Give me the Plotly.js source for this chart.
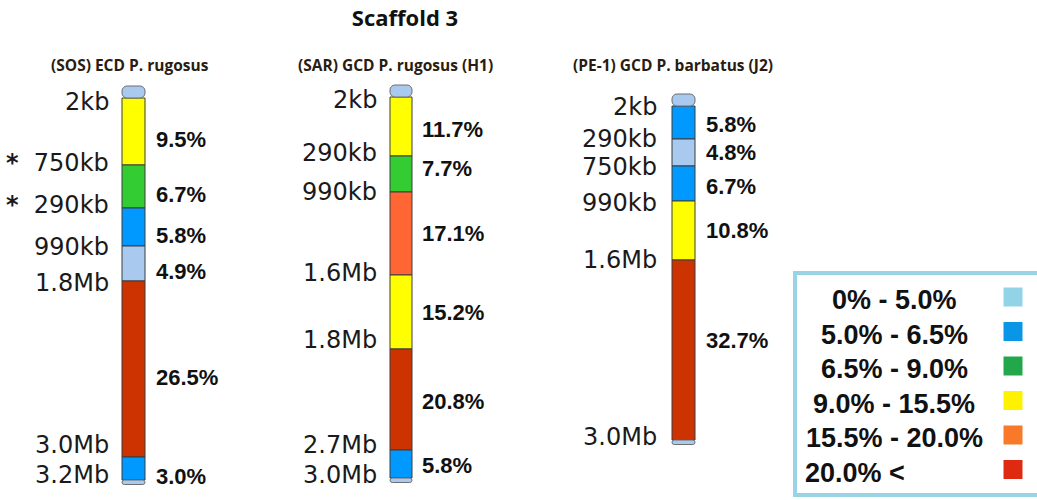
<!DOCTYPE html>
<html><head><meta charset="utf-8">
<script src="https://cdn.plot.ly/plotly-3.0.1.min.js"></script>
<style>html,body{margin:0;padding:0;background:#fff}#chart{width:1037px;height:500px}</style>
</head><body><div id="chart"></div>
<script>
// ---------------- DATA ----------------
const chartTitle = 'Scaffold 3';
const sampleNames = ['(SOS) ECD P. rugosus', '(SAR) GCD P. rugosus (H1)', '(PE-1) GCD P. barbatus (J2)'];

// segment boundaries along each schematic scaffold map (top → bottom)
const sosBounds  = [98, 165, 208, 246, 281, 457, 480];
const sosPercent = [9.5, 6.7, 5.8, 4.9, 26.5, 3.0];
const sosClass   = [3, 2, 1, 0, 5, 1];
const sosTicks   = ['2kb', '* 750kb', '* 290kb', '990kb', '1.8Mb', '3.0Mb', '3.2Mb'];

const sarBounds  = [97, 156, 192, 275, 349, 450, 478];
const sarPercent = [11.7, 7.7, 17.1, 15.2, 20.8, 5.8];
const sarClass   = [3, 2, 4, 3, 5, 1];
const sarTicks   = ['2kb', '290kb', '990kb', '1.6Mb', '1.8Mb', '2.7Mb', '3.0Mb'];

const pe1Bounds  = [106, 139, 166, 201, 260, 440];
const pe1Percent = [5.8, 4.8, 6.7, 10.8, 32.7];
const pe1Class   = [1, 0, 1, 3, 5];
const pe1Ticks   = ['2kb', '290kb', '750kb', '990kb', '1.6Mb', '3.0Mb'];

const legendLabels = ['0% - 5.0%', '5.0% - 6.5%', '6.5% - 9.0%', '9.0% - 15.5%', '15.5% - 20.0%', '20.0% <'];

// ---------------- STYLE ----------------
const W = 1037, H = 500;
const barColors    = ['#a9c9ef', '#0099ff', '#33cc33', '#ffff00', '#ff6633', '#cc3300'];
const legendColors = ['#93d3e8', '#0a96e6', '#22a84a', '#fff200', '#f87a28', '#dd2a10'];
const capColor = '#a9c9ef';
const centers = [133.5, 401, 683.5];
const barWidths = [0.23, 0.22, 0.23];
const tickShiftX = [-23, -22, -25];
const pctShiftX = [20, 19, 20];
const titleShiftX = [-4, -6, -11];
const pctOffsetY = [8, 0, 0];
const tickNudge = [[4, -2, -3, 1, 2, -12, -5], [3, -3, 0, -2, -9, -5, -3], [1, 0, 1, 2, 0, -3]];
const pctNudge = [[0, 0, 0, 0, 0, 0], [3, -6, 0, 0, 2, 1], [2, 0, 3, 0, -10]];

const maps = [
  {bounds: sosBounds, pct: sosPercent, cls: sosClass, ticks: sosTicks},
  {bounds: sarBounds, pct: sarPercent, cls: sarClass, ticks: sarTicks},
  {bounds: pe1Bounds, pct: pe1Percent, cls: pe1Class, ticks: pe1Ticks}
];

const traces = [];
const annotations = [];
const layout = {
  width: W, height: H,
  margin: {l: 0, r: 0, t: 0, b: 0},
  paper_bgcolor: '#ffffff', plot_bgcolor: 'rgba(0,0,0,0)',
  showlegend: false, barmode: 'overlay',
  title: {text: '<b>' + chartTitle + '</b>', x: 405 / W, xanchor: 'center', xref: 'paper',
          y: 1 - 18 / H, yanchor: 'middle', yref: 'container',
          font: {family: 'Open Sans', size: 22, color: '#111'}},
  yaxis: {range: [H, 0], visible: false, domain: [0, 1], fixedrange: true},
  shapes: [],
  annotations: annotations
};

maps.forEach((m, i) => {
  const ax = i === 0 ? 'x' : 'x' + (i + 1);
  const axName = i === 0 ? 'xaxis' : 'xaxis' + (i + 1);
  layout[axName] = {domain: [(centers[i] - 100) / W, (centers[i] + 100) / W], range: [-1, 1],
                    type: 'category', visible: false, anchor: 'y', fixedrange: true};
  const name = sampleNames[i];
  const n = m.pct.length;
  const base = m.bounds.slice(0, n);
  const len = base.map((b, k) => m.bounds[k + 1] - b);
  traces.push({
    type: 'bar', xaxis: ax, yaxis: 'y',
    x: Array(n).fill(name), base: base, y: len, width: barWidths[i],
    marker: {color: m.cls.map(c => barColors[c]), line: {color: '#3c3c3c', width: 1}},
    hoverinfo: 'skip'
  });
  // rounded end caps
  traces.push({
    type: 'bar', xaxis: ax, yaxis: 'y',
    x: [name, name], base: [m.bounds[0], m.bounds[n]], y: [-12, 4.5], width: barWidths[i],
    marker: {color: capColor, line: {color: '#6f6f6f', width: 1}, cornerradius: 5},
    hoverinfo: 'skip'
  });
  // sample title
  annotations.push({xref: ax, yref: 'y', x: name, y: 65, text: '<b>' + name + '</b>', showarrow: false,
    xshift: titleShiftX[i], font: {family: 'Open Sans', size: 15.5, color: '#2a1c10'}});
  // position labels at boundaries
  m.ticks.forEach((t, k) => {
    let txt = t;
    if (t.startsWith('* ')) txt = '<b>*</b>&nbsp;&nbsp;' + t.slice(2);
    annotations.push({xref: ax, yref: 'y', x: name, y: m.bounds[k] + tickNudge[i][k], text: txt,
      showarrow: false, xanchor: 'right', yanchor: 'middle', xshift: tickShiftX[i],
      font: {family: 'DejaVu Sans', size: 24, color: '#1a1a1a'}});
  });
  // percentages at segment middles
  m.pct.forEach((p, k) => {
    const mid = (m.bounds[k] + m.bounds[k + 1]) / 2 + pctOffsetY[i] + pctNudge[i][k];
    annotations.push({xref: ax, yref: 'y', x: name, y: mid, text: '<b>' + p.toFixed(1) + '%</b>',
      showarrow: false, xanchor: 'left', yanchor: 'middle', xshift: pctShiftX[i],
      font: {family: 'Liberation Sans', size: 22, color: '#111'}});
  });
});

// legend box
layout.xaxis4 = {domain: [1003 / W, 1023 / W], range: [0, 1], visible: false, anchor: 'y', fixedrange: true};
layout.shapes.push({type: 'rect', xref: 'paper', yref: 'y', x0: 795 / W, x1: 1045 / W, y0: 273, y1: 495,
  line: {color: '#98d4e6', width: 4}, fillcolor: 'rgba(0,0,0,0)'});
const rowY = legendLabels.map((_, k) => 300 + k * 34.5);
traces.push({
  type: 'scatter', mode: 'markers', xaxis: 'x4', yaxis: 'y',
  x: legendLabels.map(() => 0.5), y: rowY.map(v => v - 3),
  marker: {symbol: 'square', size: 19, color: legendColors, line: {width: 0}},
  hoverinfo: 'skip'
});
legendLabels.forEach((l, k) => {
  const last = k === legendLabels.length - 1;
  annotations.push({xref: 'paper', yref: 'y', x: (last ? 803 : 894) / W, y: rowY[k],
    text: '<b>' + l + '</b>', showarrow: false, xanchor: last ? 'left' : 'center', yanchor: 'middle',
    font: {family: 'Liberation Sans', size: 27, color: '#111'}});
});

Plotly.newPlot('chart', traces, layout, {staticPlot: true, displayModeBar: false});
</script>
</body></html>
